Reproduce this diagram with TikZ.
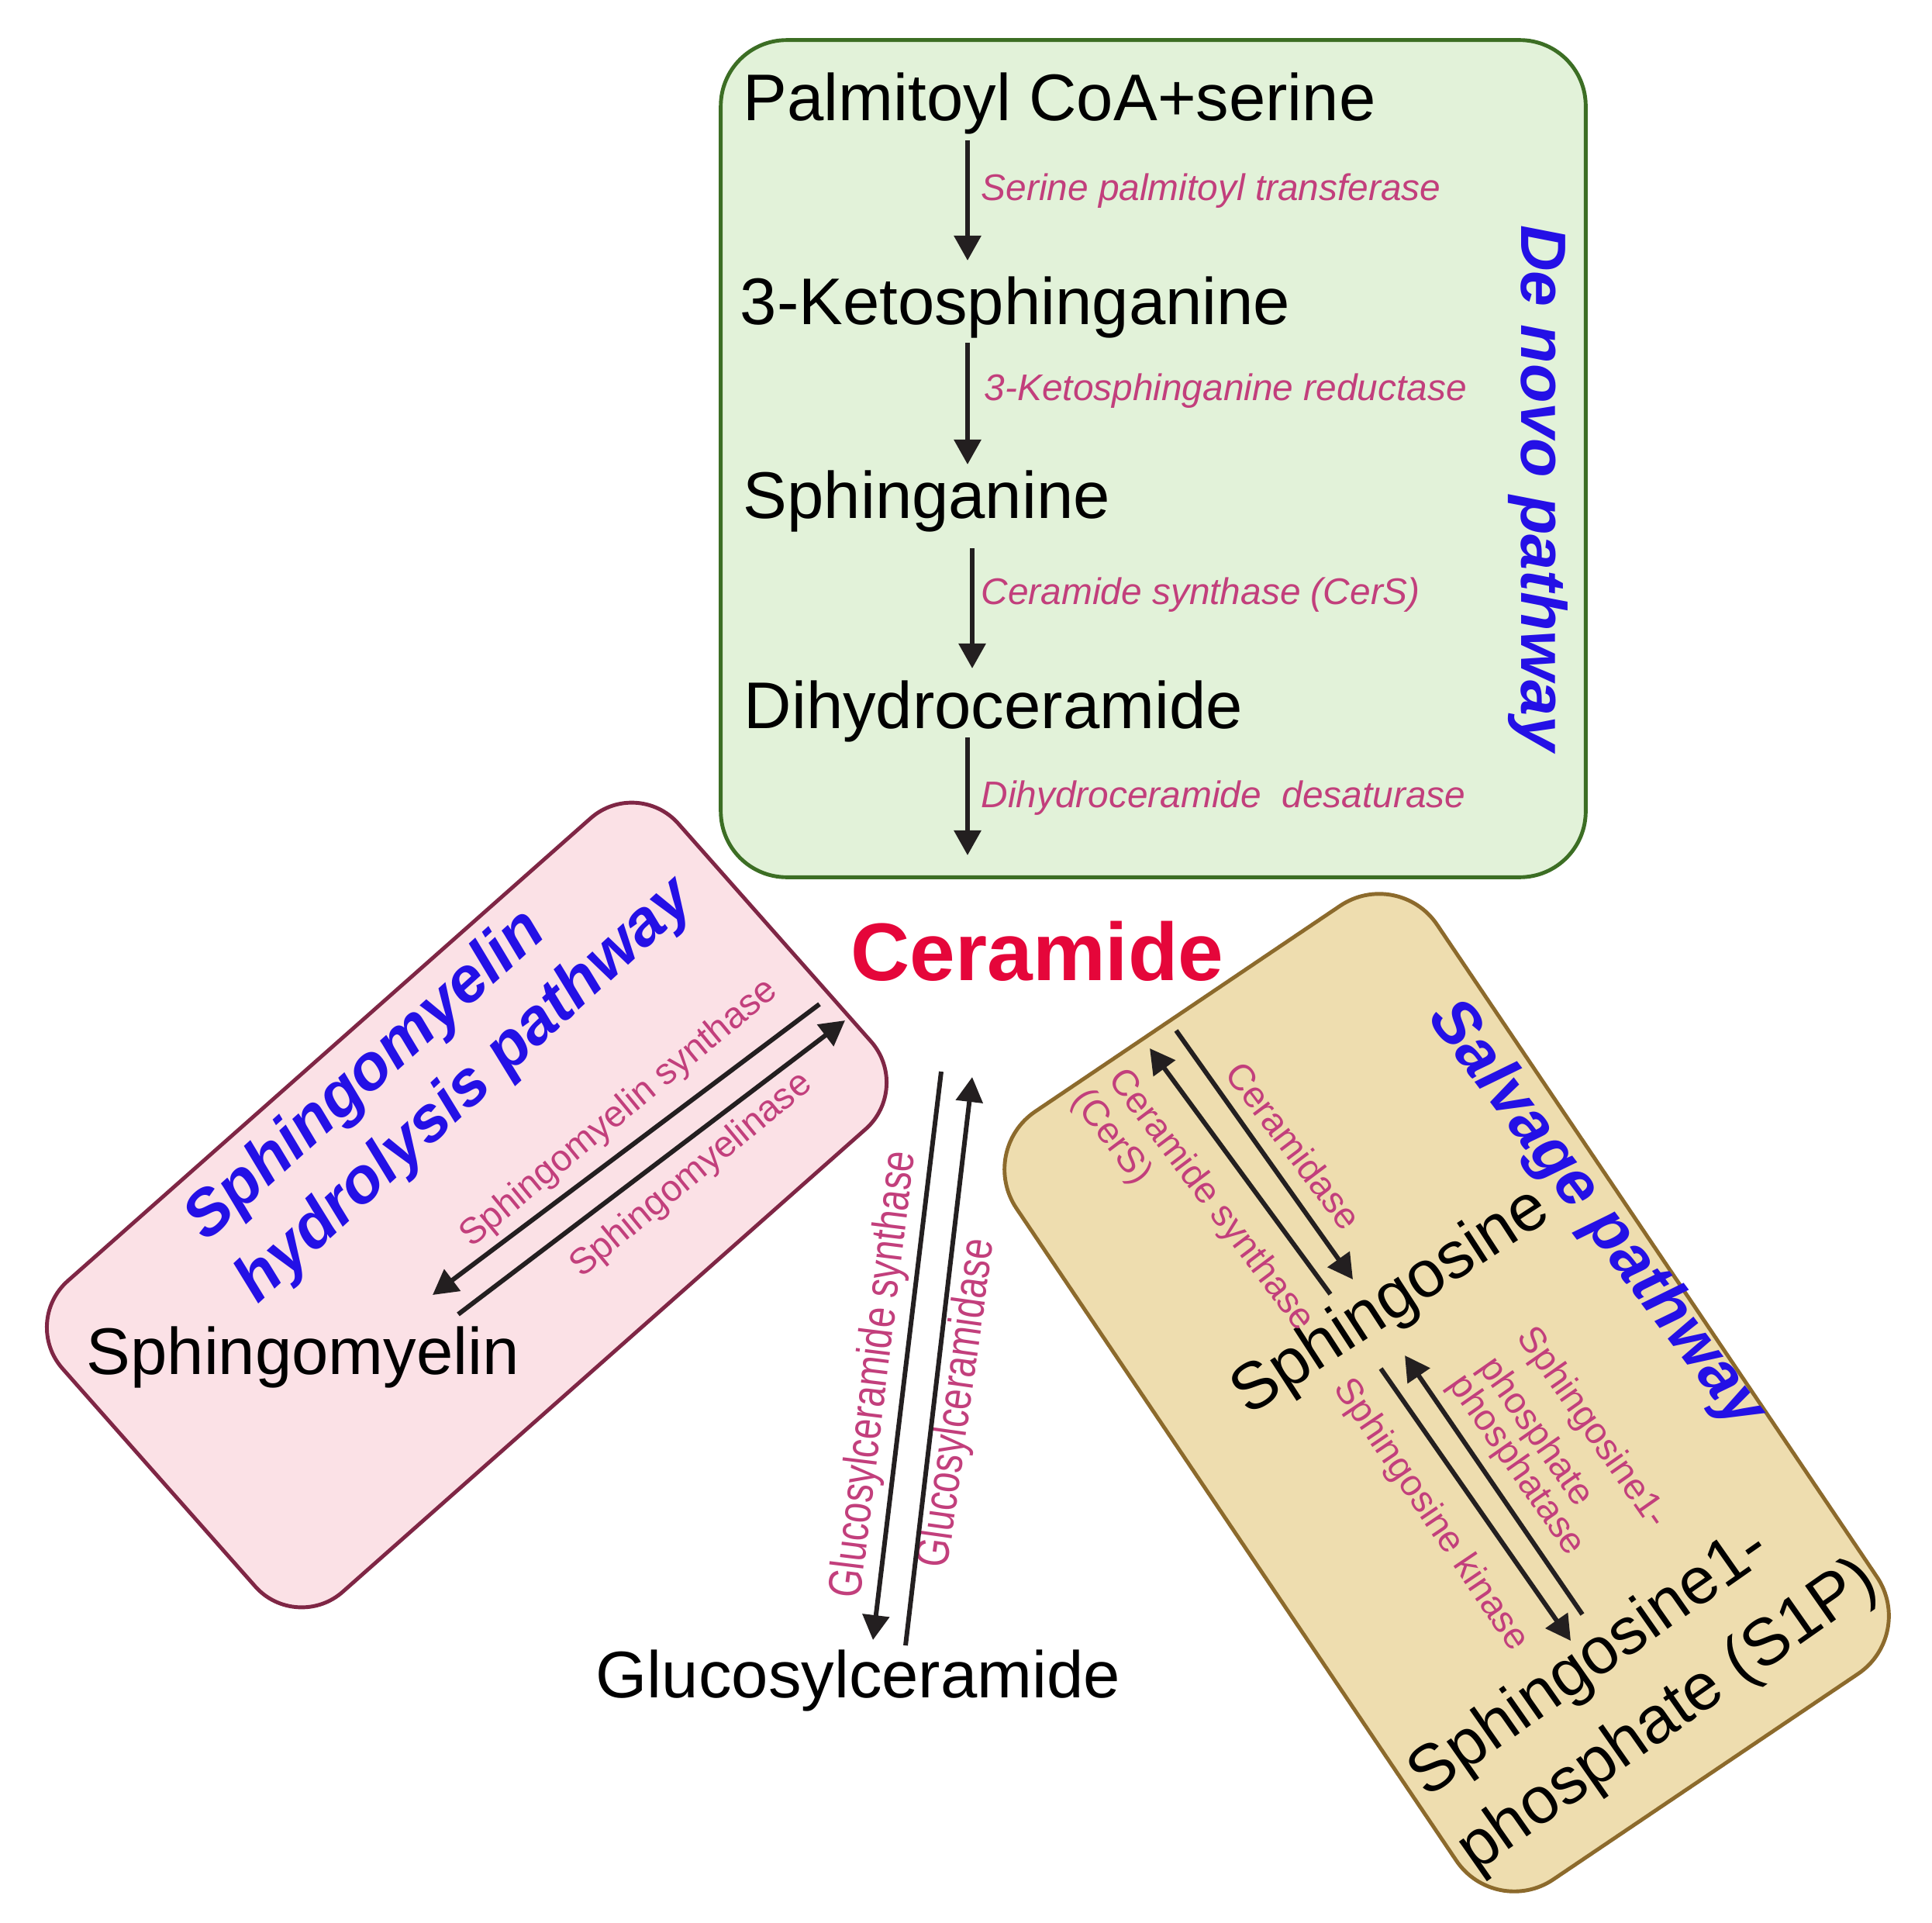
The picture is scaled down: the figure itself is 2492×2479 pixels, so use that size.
\documentclass[tikz,border=0pt]{standalone}
\usepackage{fontspec}
\setmainfont{Liberation Sans}
\usepackage{graphicx}
\usetikzlibrary{arrows.meta}
\definecolor{gfill}{HTML}{E2F2D9}
\definecolor{gdraw}{HTML}{3C6E24}
\definecolor{pfill}{HTML}{FBE1E6}
\definecolor{pdraw}{HTML}{7F2645}
\definecolor{tfill}{HTML}{EEDDAF}
\definecolor{tdraw}{HTML}{8C6A2C}
\definecolor{labc}{HTML}{C23F7C}
\definecolor{ttlc}{HTML}{2410E6}
\definecolor{cerc}{HTML}{E5063A}
\definecolor{arrc}{HTML}{231F20}
\tikzset{
  pathbox/.style={draw, line width=1.4pt, inner sep=0pt},
  mainlbl/.style={font=\fontsize{24.2}{29}\selectfont, text=black, inner sep=0pt},
  enzit/.style={font=\fontsize{13.6}{16}\selectfont\itshape, text=labc, inner sep=0pt},
  enz/.style={font=\fontsize{13.5}{16}\selectfont, text=labc, inner sep=0pt},
  ttl/.style={font=\fontsize{23.5}{28}\selectfont\bfseries\itshape, text=ttlc, inner sep=0pt},
  rxn/.style={draw=arrc, line width=1.7pt, -{Triangle[length=0.32cm,width=0.34cm]}}
}
\begin{document}
\begin{tikzpicture}[x=0.01cm,y=-0.01cm]
\useasboundingbox (0,0) rectangle (2492,2479);
% boxes
\node[pathbox, draw=gdraw, fill=gfill, rounded corners=0.85cm, minimum width=11.15cm, minimum height=10.79cm] (denovo) at (1487.5,591.5) {};
\node[pathbox, draw=pdraw, fill=pfill, rounded corners=0.8cm, minimum width=10.6cm, minimum height=5.35cm, rotate=41.5] (smbox) at (602,1554) {};
\node[pathbox, draw=tdraw, fill=tfill, rounded corners=0.9cm, minimum width=11.94cm, minimum height=6.54cm, rotate=-56] (salbox) at (1866,1796) {};

% de novo pathway
\node[mainlbl, anchor=base west] (pal) at (958,156) {Palmitoyl CoA+serine};
\node[mainlbl, anchor=base west] (keto) at (954,419) {3-Ketosphinganine};
\node[mainlbl, anchor=base west] (sphg) at (958,668) {Sphinganine};
\node[mainlbl, anchor=base west] (dihy) at (959,939) {Dihydroceramide};
\node[enzit, anchor=base west] (e1) at (1265,259) {Serine palmitoyl transferase};
\node[enzit, anchor=base west] (e2) at (1269,516) {3-Ketosphinganine reductase};
\node[enzit, anchor=base west] (e3) at (1265,779) {Ceramide synthase (CerS)};
\node[enzit, anchor=base west] (e4) at (1265,1041) {Dihydroceramide\ \ desaturase};
\node[ttl, rotate=-90] (dntitle) at (1984,630) {De novo pathway};
\coordinate (a1s) at (1248,181); \coordinate (a1e) at (1248,336);
\coordinate (a2s) at (1248,442); \coordinate (a2e) at (1248,599);
\coordinate (a3s) at (1254,707); \coordinate (a3e) at (1254,862);
\coordinate (a4s) at (1248,951); \coordinate (a4e) at (1248,1103);
\draw[rxn] (a1s) -- (a1e);
\draw[rxn] (a2s) -- (a2e);
\draw[rxn] (a3s) -- (a3e);
\draw[rxn] (a4s) -- (a4e);

% ceramide
\node[font=\fontsize{30}{36}\selectfont\bfseries, text=cerc, inner sep=0pt] (cer) at (1338,1227) {Ceramide};

% sphingomyelin pathway
\node[ttl, rotate=42, anchor=west] (smt1) at (252,1587) {Sphingomyelin};
\node[ttl, rotate=42.5, anchor=west] (smt2) at (318,1667) {hydrolysis pathway};
\node[mainlbl, anchor=base west] (sm) at (111,1772) {Sphingomyelin};
\node[enz, rotate=39.5] (sms) at (799,1436) {Sphingomyelin synthase};
\node[enz, rotate=39.5] (smase) at (892,1516) {Sphingomyelinase};
\coordinate (b1s) at (1057,1295); \coordinate (b1e) at (558,1670);
\coordinate (b2s) at (591,1695); \coordinate (b2e) at (1090,1316);
\draw[rxn] (b1s) -- (b1e);
\draw[rxn] (b2s) -- (b2e);

% glucosylceramide
\node[mainlbl, anchor=base west] (glc) at (768,2189) {Glucosylceramide};
\node[font=\fontsize{17.3}{20}\selectfont, text=labc, inner sep=0pt, rotate=83] (gcs) at (1129,1773) {\scalebox{0.78}[1]{Glucosylceramide synthase}};
\node[font=\fontsize{17.3}{20}\selectfont, text=labc, inner sep=0pt, rotate=82] (gcase) at (1236,1810) {\scalebox{0.78}[1]{Glucosylceramidase}};
\coordinate (c1s) at (1214,1382); \coordinate (c1e) at (1126,2115);
\coordinate (c2s) at (1168,2122); \coordinate (c2e) at (1254,1389);
\draw[rxn] (c1s) -- (c1e);
\draw[rxn] (c2s) -- (c2e);

% salvage pathway
\node[ttl, rotate=-53] (salt) at (2058,1567) {Salvage pathway};
\node[mainlbl, rotate=33] (sph) at (1795,1680) {Sphingosine};
\node[mainlbl, rotate=35] (s1p1) at (2051,2145) {Sphingosine1-};
\node[mainlbl, rotate=35] (s1p2) at (2152,2214) {phosphate (S1P)};
\node[enz, rotate=-53] (cdase) at (1669,1477) {Ceramidase};
\node[enz, rotate=-53] (cers1) at (1561,1548) {Ceramide synthase};
\node[enz, rotate=-53] (cers2) at (1433,1467) {(CerS)};
\node[enz, rotate=-55] (spp1) at (2053,1842) {Sphingosine1-};
\node[enz, rotate=-55] (spp2) at (1980,1847) {phosphate};
\node[enz, rotate=-55] (spp3) at (1955,1890) {phosphatase};
\node[enz, rotate=-56] (sk) at (1845,1954) {Sphingosine kinase};
\coordinate (d1s) at (1716,1669); \coordinate (d1e) at (1483,1352);
\coordinate (d2s) at (1517,1329); \coordinate (d2e) at (1745,1650);
\coordinate (d3s) at (2041,2082); \coordinate (d3e) at (1812,1748);
\coordinate (d4s) at (1781,1765); \coordinate (d4e) at (2026,2116);
\draw[rxn] (d1s) -- (d1e);
\draw[rxn] (d2s) -- (d2e);
\draw[rxn] (d3s) -- (d3e);
\draw[rxn] (d4s) -- (d4e);
\end{tikzpicture}
\end{document}
